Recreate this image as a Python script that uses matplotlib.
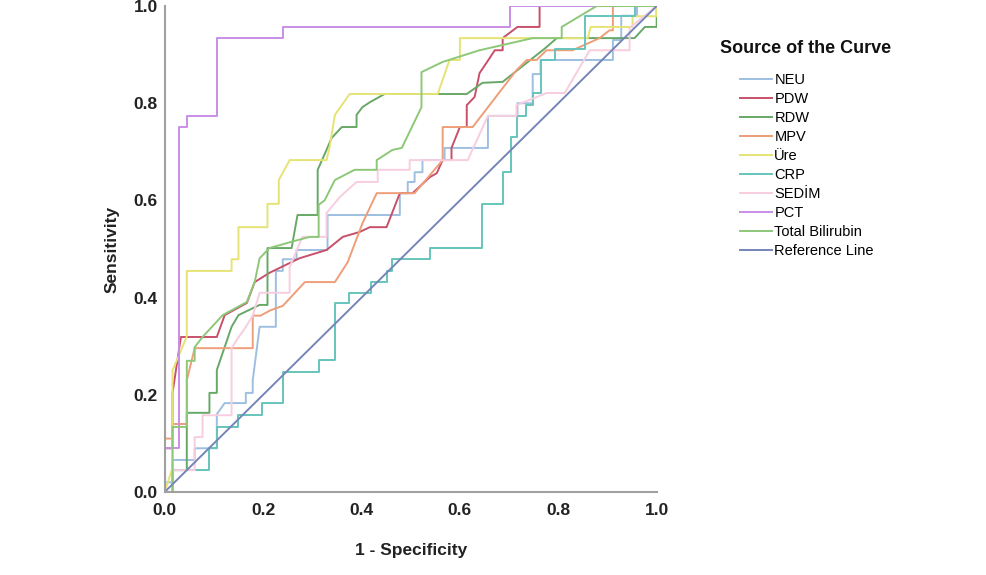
import matplotlib
matplotlib.use("Agg")
import matplotlib.pyplot as plt

plt.rcParams['font.family'] = ['Liberation Sans', 'DejaVu Sans']

# ROC step curves (1 - specificity, sensitivity)
neu_x = [0, 0, 0.016, 0.016, 0.061, 0.061, 0.106, 0.106, 0.122, 0.165, 0.165, 0.179, 0.179, 0.193, 0.226, 0.226,
         0.24, 0.24, 0.268, 0.268, 0.331, 0.331, 0.478, 0.478, 0.494, 0.494, 0.508, 0.508, 0.524, 0.524, 0.569,
         0.569, 0.657, 0.657, 0.717, 0.717, 0.748, 0.748, 0.764, 0.764, 0.911, 0.911, 0.928, 0.928, 0.96, 0.96, 1.0]
neu_y = [0, 0.02, 0.02, 0.066, 0.066, 0.09, 0.09, 0.16, 0.183, 0.183, 0.204, 0.204, 0.23, 0.34, 0.34, 0.455,
         0.455, 0.479, 0.479, 0.498, 0.498, 0.57, 0.57, 0.615, 0.615, 0.638, 0.638, 0.658, 0.658, 0.683, 0.683,
         0.708, 0.708, 0.774, 0.774, 0.80, 0.80, 0.86, 0.86, 0.889, 0.889, 0.93, 0.93, 0.98, 0.98, 1.0, 1.0]

pdw_x = [0, 0, 0.016, 0.016, 0.033, 0.106, 0.122, 0.167, 0.183, 0.213, 0.274, 0.329, 0.362, 0.396, 0.417, 0.451,
         0.478, 0.504, 0.539, 0.553, 0.565, 0.583, 0.583, 0.60, 0.614, 0.614, 0.63, 0.64, 0.654, 0.671, 0.687,
         0.687, 0.717, 0.762, 0.762, 1.0]
pdw_y = [0, 0.09, 0.09, 0.204, 0.319, 0.319, 0.364, 0.389, 0.432, 0.451, 0.481, 0.498, 0.525, 0.535, 0.545, 0.545,
         0.615, 0.615, 0.648, 0.656, 0.683, 0.683, 0.708, 0.751, 0.751, 0.796, 0.813, 0.862, 0.883, 0.909, 0.909,
         0.934, 0.957, 0.957, 1.0, 1.0]

rdw_x = [0, 0.016, 0.016, 0.045, 0.045, 0.091, 0.091, 0.106, 0.106, 0.136, 0.15, 0.193, 0.209, 0.209, 0.258, 0.27,
         0.311, 0.311, 0.329, 0.339, 0.36, 0.39, 0.39, 0.402, 0.417, 0.447, 0.614, 0.646, 0.687, 0.772, 0.797,
         0.955, 0.976, 1.0, 1.0]
rdw_y = [0, 0, 0.045, 0.045, 0.163, 0.163, 0.204, 0.204, 0.251, 0.34, 0.364, 0.385, 0.385, 0.502, 0.502, 0.57,
         0.57, 0.663, 0.704, 0.728, 0.751, 0.751, 0.776, 0.792, 0.802, 0.819, 0.819, 0.842, 0.844, 0.912, 0.934,
         0.934, 0.957, 0.957, 1.0]

mpv_x = [0, 0, 0.016, 0.016, 0.045, 0.045, 0.061, 0.179, 0.179, 0.195, 0.215, 0.24, 0.285, 0.346, 0.372, 0.402,
         0.431, 0.508, 0.565, 0.565, 0.626, 0.715, 0.736, 0.756, 0.776, 0.829, 0.884, 0.904, 0.911, 0.911, 1.0]
mpv_y = [0, 0.11, 0.11, 0.14, 0.14, 0.23, 0.296, 0.296, 0.363, 0.363, 0.374, 0.383, 0.432, 0.432, 0.473, 0.553,
         0.615, 0.615, 0.683, 0.751, 0.751, 0.868, 0.889, 0.889, 0.909, 0.909, 0.934, 0.95, 0.95, 1.0, 1.0]

ure_x = [0, 0.016, 0.016, 0.045, 0.045, 0.136, 0.136, 0.15, 0.15, 0.209, 0.209, 0.232, 0.232, 0.254, 0.329,
         0.335, 0.346, 0.376, 0.555, 0.579, 0.60, 0.60, 0.86, 0.866, 0.951, 0.951, 1.0, 1.0]
ure_y = [0, 0.05, 0.25, 0.32, 0.455, 0.455, 0.479, 0.479, 0.545, 0.545, 0.593, 0.593, 0.642, 0.683, 0.683,
         0.708, 0.776, 0.819, 0.819, 0.889, 0.889, 0.934, 0.934, 0.957, 0.957, 0.979, 0.979, 1.0]

crp_x = [0, 0.016, 0.016, 0.091, 0.091, 0.106, 0.106, 0.15, 0.15, 0.197, 0.197, 0.24, 0.24, 0.313, 0.313, 0.346,
         0.346, 0.374, 0.374, 0.419, 0.419, 0.451, 0.451, 0.463, 0.463, 0.539, 0.539, 0.644, 0.644, 0.687, 0.687,
         0.703, 0.703, 0.717, 0.717, 0.734, 0.734, 0.748, 0.748, 0.764, 0.764, 0.793, 0.793, 0.854, 0.854, 0.955,
         0.955, 1.0]
crp_y = [0, 0, 0.045, 0.045, 0.09, 0.09, 0.134, 0.134, 0.158, 0.158, 0.183, 0.183, 0.247, 0.247, 0.272, 0.272,
         0.389, 0.389, 0.409, 0.409, 0.432, 0.432, 0.455, 0.455, 0.479, 0.479, 0.502, 0.502, 0.593, 0.593, 0.658,
         0.658, 0.730, 0.730, 0.774, 0.774, 0.796, 0.796, 0.821, 0.821, 0.889, 0.889, 0.912, 0.912, 0.979, 0.979,
         1.0, 1.0]

sed_x = [0, 0.016, 0.016, 0.061, 0.061, 0.077, 0.077, 0.136, 0.136, 0.15, 0.165, 0.179, 0.193, 0.254, 0.254,
         0.28, 0.329, 0.329, 0.356, 0.39, 0.433, 0.433, 0.498, 0.498, 0.616, 0.657, 0.715, 0.715, 0.776, 0.813,
         0.864, 0.945, 0.945, 1.0]
sed_y = [0, 0, 0.045, 0.045, 0.113, 0.113, 0.158, 0.158, 0.296, 0.318, 0.34, 0.363, 0.41, 0.41, 0.463, 0.525,
         0.525, 0.574, 0.607, 0.638, 0.638, 0.663, 0.663, 0.683, 0.683, 0.774, 0.774, 0.796, 0.821, 0.821, 0.909,
         0.909, 0.955, 1.0]

pct_x = [0, 0, 0.03, 0.03, 0.045, 0.045, 0.106, 0.106, 0.24, 0.24, 0.701, 0.701, 1.0]
pct_y = [0, 0.09, 0.09, 0.751, 0.751, 0.774, 0.774, 0.934, 0.934, 0.957, 0.957, 1.0, 1.0]

tbil_x = [0, 0.016, 0.016, 0.045, 0.045, 0.061, 0.061, 0.077, 0.118, 0.167, 0.183, 0.193, 0.213, 0.258, 0.295,
          0.313, 0.313, 0.325, 0.346, 0.386, 0.431, 0.431, 0.463, 0.482, 0.522, 0.522, 0.565, 0.64, 0.748, 0.807,
          0.807, 0.878, 1.0]
tbil_y = [0, 0, 0.134, 0.134, 0.27, 0.27, 0.298, 0.319, 0.364, 0.391, 0.432, 0.481, 0.502, 0.515, 0.525, 0.525,
          0.591, 0.6, 0.642, 0.663, 0.663, 0.683, 0.704, 0.708, 0.792, 0.864, 0.885, 0.909, 0.934, 0.934, 0.957,
          1.0, 1.0]

ref_x = [0, 1]
ref_y = [0, 1]

labels = ["NEU", "PDW", "RDW", "MPV", "Üre", "CRP", "SEDİM", "PCT", "Total Bilirubin", "Reference Line"]
colors = ["#9dbfe0", "#c8506a", "#67a867", "#ee9e78", "#e6e374", "#66c4bc", "#f7cde0", "#c98ee6",
          "#8dc878", "#7585b8"]
curves = [(neu_x, neu_y), (pdw_x, pdw_y), (rdw_x, rdw_y), (mpv_x, mpv_y), (ure_x, ure_y), (crp_x, crp_y),
          (sed_x, sed_y), (pct_x, pct_y), (tbil_x, tbil_y), (ref_x, ref_y)]

fig = plt.figure(figsize=(9.86, 5.75), dpi=100)
ax = fig.add_axes([0.167, 0.1443, 0.499, 0.8452])

handles = []
for (xs, ys), lab, col in zip(curves, labels, colors):
    line, = ax.plot(xs, ys, color=col, linewidth=1.4, label=lab)
    handles.append(line)

ax.set_xlim(0, 1)
ax.set_ylim(0, 1)
ax.set_xticks([0, 0.2, 0.4, 0.6, 0.8, 1.0])
ax.set_yticks([0, 0.2, 0.4, 0.6, 0.8, 1.0])
ax.set_xticklabels(["0.0", "0.2", "0.4", "0.6", "0.8", "1.0"])
ax.set_yticklabels(["0.0", "0.2", "0.4", "0.6", "0.8", "1.0"])
ax.tick_params(length=0, labelsize=12.5, colors="#222222")
ax.tick_params(axis="x", pad=8)
ax.tick_params(axis="y", pad=5)
for lab in ax.get_xticklabels() + ax.get_yticklabels():
    lab.set_fontweight("bold")

ax.set_xlabel("1 - Specificity", fontsize=12.5, fontweight="bold", labelpad=18, color="#222222")
ax.set_ylabel("Sensitivity", fontsize=12.5, fontweight="bold", labelpad=10, color="#222222")

for side in ["top", "right"]:
    ax.spines[side].set_visible(False)
for side in ["left", "bottom"]:
    ax.spines[side].set_color("#a0a0a0")
    ax.spines[side].set_linewidth(1.5)

# legend title drawn separately so the gap to the entries matches the reference
fig.text(0.8175, 0.9165, "Source of the Curve", ha="center", va="center", fontsize=13, fontweight="bold",
         color="#111111")
fig.legend(handles=handles, labels=labels, loc="upper left", bbox_to_anchor=(0.7505, 0.873),
           frameon=False, fontsize=10.5, borderpad=0, borderaxespad=0,
           handlelength=2.2, handletextpad=0.15, labelspacing=0.34)

fig.savefig("out.png", dpi=100)
